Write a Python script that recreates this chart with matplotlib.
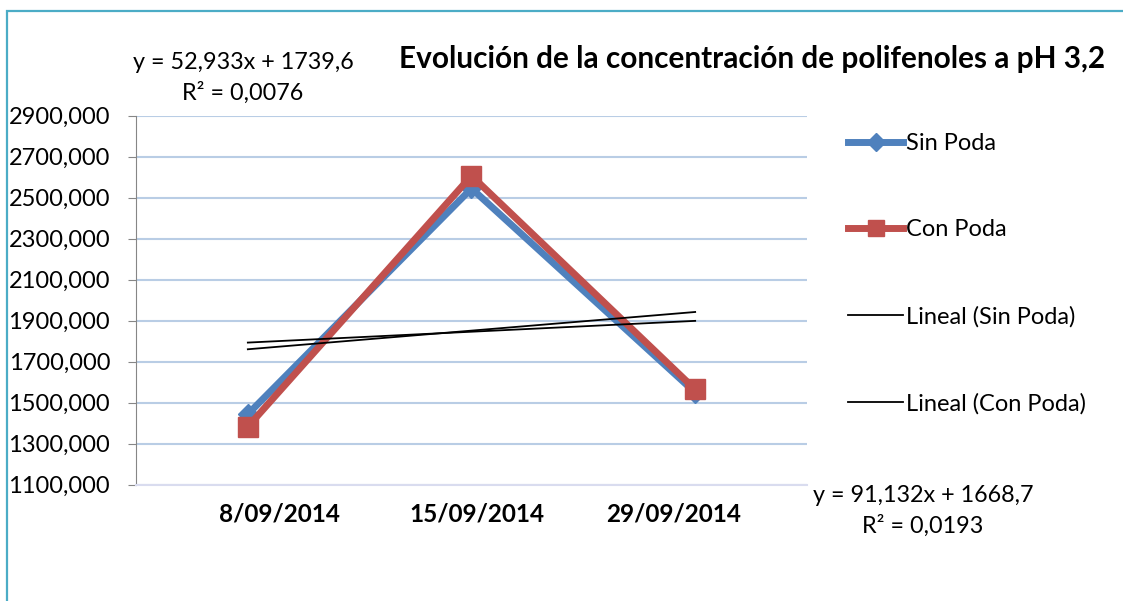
import numpy as np
import matplotlib
matplotlib.use("Agg")
import matplotlib.pyplot as plt
from matplotlib.lines import Line2D
from matplotlib.patches import Rectangle

plt.rcParams['font.family'] = ['Lato', 'DejaVu Sans']

categories = ["8/09/2014", "15/09/2014", "29/09/2014"]
sin_poda = [1443, 2545, 1549]
con_poda = [1382, 2607, 1564]
yticks = [1100, 1300, 1500, 1700, 1900, 2100, 2300, 2500, 2700, 2900]
title = "Evolución de la concentración de polifenoles a pH 3,2"
eq_sin = "y = 52,933x + 1739,6\nR² = 0,0076"
eq_con = "y = 91,132x + 1668,7\nR² = 0,0193"

BLUE = "#4F81BD"
RED = "#C0504D"
GRID = "#B9CDE5"

W, H = 1123, 601
fig = plt.figure(figsize=(W / 100, H / 100), dpi=100)
fig.patch.set_facecolor("white")

def fx(px):
    return px / W

def fy(py):
    return 1 - py / H

# outer frame
fig.patches.append(Rectangle((fx(7), fy(700)), 2, fy(11) - fy(700), transform=fig.transFigure,
                             fill=False, edgecolor="#4BACC6", linewidth=1.6, zorder=0))

ax = fig.add_axes([fx(136), fy(484.5), fx(807) - fx(136), fy(115.7) - fy(484.5)])
x = np.arange(len(categories))

ax.set_ylim(1100, 2900)
ax.set_xlim(-0.5, 2.5)
ax.set_yticks(yticks)
ax.set_yticklabels([f"{v},000" for v in yticks], fontsize=17)
ax.grid(axis="y", color=GRID, linewidth=1.5)
ax.set_axisbelow(True)

label_pos = [0.143, 1.022, 1.902]
ax.set_xticks(label_pos)
ax.set_xticklabels(categories, fontsize=17.5, fontweight="bold")
ax.tick_params(axis="x", length=0, pad=13)
ax.tick_params(axis="y", length=5.8, color="#868686", pad=12.9, direction="out")

for s in ["top", "right"]:
    ax.spines[s].set_visible(False)
ax.spines["left"].set_color("#868686")
ax.spines["bottom"].set_color("#D9DCEF")
ax.spines["bottom"].set_linewidth(1.5)

ax.plot(x, sin_poda, color=BLUE, linewidth=5, marker="D", markersize=10,
        markerfacecolor=BLUE, markeredgecolor=BLUE, zorder=3, solid_capstyle="round")
ax.plot(x, con_poda, color=RED, linewidth=5, marker="s", markersize=14,
        markerfacecolor=RED, markeredgecolor=RED, zorder=4, solid_capstyle="round")

xt = x + 1
c1 = np.polyfit(xt, sin_poda, 1)
c2 = np.polyfit(xt, con_poda, 1)
ax.plot(x, np.polyval(c1, xt), color="black", linewidth=1.3, zorder=5)
ax.plot(x, np.polyval(c2, xt), color="black", linewidth=1.3, zorder=5)

fig.text(fx(752), fy(59), title, ha="center", va="center", fontsize=21.4, fontweight="bold")
fig.text(fx(243), fy(78), eq_sin, ha="center", va="center", fontsize=16.8, linespacing=1.45)
fig.text(fx(923), fy(511), eq_con, ha="center", va="center", fontsize=16.8, linespacing=1.5)

handles = [
    Line2D([], [], color=BLUE, linewidth=5, marker="D", markersize=9),
    Line2D([], [], color=RED, linewidth=5, marker="s", markersize=12),
    Line2D([], [], color="black", linewidth=1.3),
    Line2D([], [], color="black", linewidth=1.3),
]
labels = ["Sin Poda", "Con Poda", "Lineal (Sin Poda)", "Lineal (Con Poda)"]
fig.legend(handles, labels, loc="upper left", bbox_to_anchor=(fx(836), fy(121)),
           frameon=False, fontsize=17, handlelength=2.35, handletextpad=0.1,
           labelspacing=2.78, borderpad=0)

fig.savefig("out.png", dpi=100)
